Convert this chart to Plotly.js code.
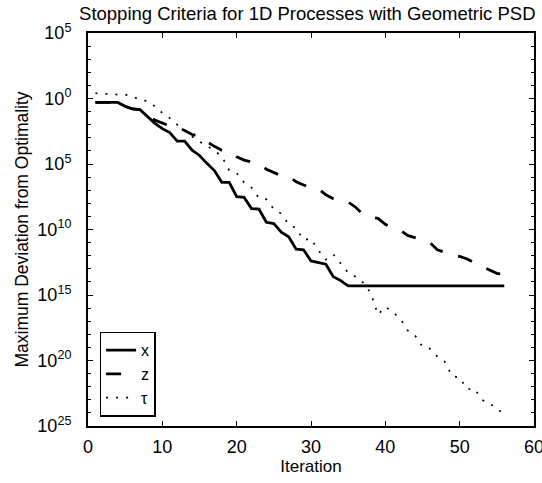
<!DOCTYPE html>
<html>
<head>
<meta charset="utf-8">
<script src="https://cdn.plot.ly/plotly-3.0.1.min.js"></script>
<style>html,body{margin:0;padding:0;background:#fff;}#chart{width:542px;height:483px;}</style>
</head>
<body>
<div id="chart"></div>
<script>
// Iterations 1..56
const iterations = Array.from({length: 56}, (_, i) => i + 1);

// log10 of maximum deviation
const xExp = [-0.3,-0.3,-0.3,-0.3,-0.6,-0.8,-0.85,-1.4,-1.9,-2.3,
              -2.6,-3.25,-3.25,-3.95,-4.35,-4.95,-5.5,-6.4,-6.4,-7.5,
              -7.55,-8.4,-8.45,-9.45,-9.55,-10.2,-10.55,-11.5,-11.55,-12.4,
              -12.55,-12.65,-13.6,-13.9,-14.3,-14.3,-14.3,-14.3,-14.3,-14.3,
              -14.3,-14.3,-14.3,-14.3,-14.3,-14.3,-14.3,-14.3,-14.3,-14.3,
              -14.3,-14.3,-14.3,-14.3,-14.3,-14.3];
const zExp = [-0.3,-0.3,-0.3,-0.3,-0.6,-0.8,-0.85,-1.3,-1.65,-1.9,
              -2.1,-2.15,-2.45,-2.75,-2.85,-3.3,-3.65,-3.95,-4.0,-4.45,
              -4.7,-4.85,-5.0,-5.4,-5.65,-5.9,-5.95,-6.35,-6.6,-6.85,
              -6.9,-7.35,-7.65,-7.85,-7.9,-8.3,-8.85,-9.05,-9.15,-9.6,
              -9.9,-10.05,-10.45,-10.6,-10.8,-11.0,-11.55,-11.75,-11.95,-12.05,
              -12.25,-12.55,-12.8,-13.1,-13.35,-13.45];
const tauExp = [0.4,0.35,0.3,0.3,0.3,0.15,-0.1,-0.2,-0.6,-1.1,
                -1.5,-2.0,-2.4,-2.9,-3.3,-3.6,-4.0,-4.4,-5.5,-5.7,
                -6.4,-6.8,-7.6,-7.7,-8.45,-8.8,-9.6,-9.9,-10.8,-10.7,
                -11.6,-12.3,-11.9,-12.6,-13.3,-13.6,-14.05,-14.8,-16.5,-15.9,
                -16.3,-16.8,-17.7,-18.1,-18.95,-19.1,-19.7,-20.1,-21.2,-21.3,
                -22.2,-22.15,-23.0,-23.3,-23.6,-24.2];

const seriesNames = ["x", "z", "\u03c4"];
const yTickVals = [1e5, 1e0, 1e-5, 1e-10, 1e-15, 1e-20, 1e-25];
const yTickText = ["10<sup>5</sup>", "10<sup>0</sup>", "10<sup>5</sup>", "10<sup>10</sup>",
                   "10<sup>15</sup>", "10<sup>20</sup>", "10<sup>25</sup>"];
const xTickVals = [0, 10, 20, 30, 40, 50, 60];

const toVal = a => a.map(e => Math.pow(10, e));
const minorVals = [];
for (let e = 5; e >= -25; e--) minorVals.push(Math.pow(10, e));

const font = "Liberation Sans, Arial, sans-serif";

const traces = [
  {x: iterations, y: toVal(xExp), name: seriesNames[0], mode: "lines",
   line: {color: "black", width: 2.8}},
  {x: iterations, y: toVal(zExp), name: seriesNames[1], mode: "lines",
   line: {color: "black", width: 2.8, dash: "15px,16px"}},
  {x: iterations, y: toVal(tauExp), name: seriesNames[2], mode: "lines",
   line: {color: "black", width: 1.7, dash: "2px,8px"}}
];

const layout = {
  width: 542, height: 483,
  margin: {l: 87.5, r: 7.5, t: 33, b: 57.3},
  paper_bgcolor: "white", plot_bgcolor: "white",
  font: {family: font, size: 17, color: "black"},
  showlegend: true,
  title: {text: "Stopping Criteria for 1D Processes with Geometric PSD",
          font: {family: font, size: 18.5, color: "black"},
          x: 0.567, xanchor: "center", y: 0.973, yanchor: "middle"},
  xaxis: {
    range: [0, 60], tickmode: "array", tickvals: xTickVals,
    ticks: "inside", ticklen: 5, tickwidth: 1, tickcolor: "black",
    showline: true, linecolor: "black", linewidth: 2, mirror: "ticks",
    showgrid: false, zeroline: false, ticklabelstandoff: 3,
    ticklabeloverflow: "allow",
    tickfont: {family: font, size: 18, color: "black"},
    title: {text: "Iteration", font: {family: font, size: 17, color: "black"}, standoff: 4}
  },
  yaxis: {
    type: "log", range: [-25, 5], tickmode: "array",
    tickvals: yTickVals, ticktext: yTickText,
    ticks: "inside", ticklen: 5, tickwidth: 1, tickcolor: "black",
    showline: true, linecolor: "black", linewidth: 2, mirror: "ticks",
    showgrid: false, zeroline: false, ticklabelstandoff: 11,
    ticklabeloverflow: "allow",
    tickfont: {family: font, size: 18, color: "black"},
    minor: {tickmode: "array", tickvals: minorVals, ticks: "inside", ticklen: 3,
            tickcolor: "black", tickwidth: 1, showgrid: false},
    title: {text: "Maximum Deviation from Optimality",
            font: {family: font, size: 17.5, color: "black"}, standoff: 4}
  },
  legend: {
    x: 0.026, y: 0.24, xanchor: "left", yanchor: "top",
    bgcolor: "white", bordercolor: "black", borderwidth: 1.5,
    font: {family: font, size: 16, color: "black"},
    tracegroupgap: 0, entrywidth: 70, entrywidthmode: "pixels"
  }
};

Plotly.newPlot("chart", traces, layout, {displayModeBar: false, staticPlot: true});
</script>
</body>
</html>
